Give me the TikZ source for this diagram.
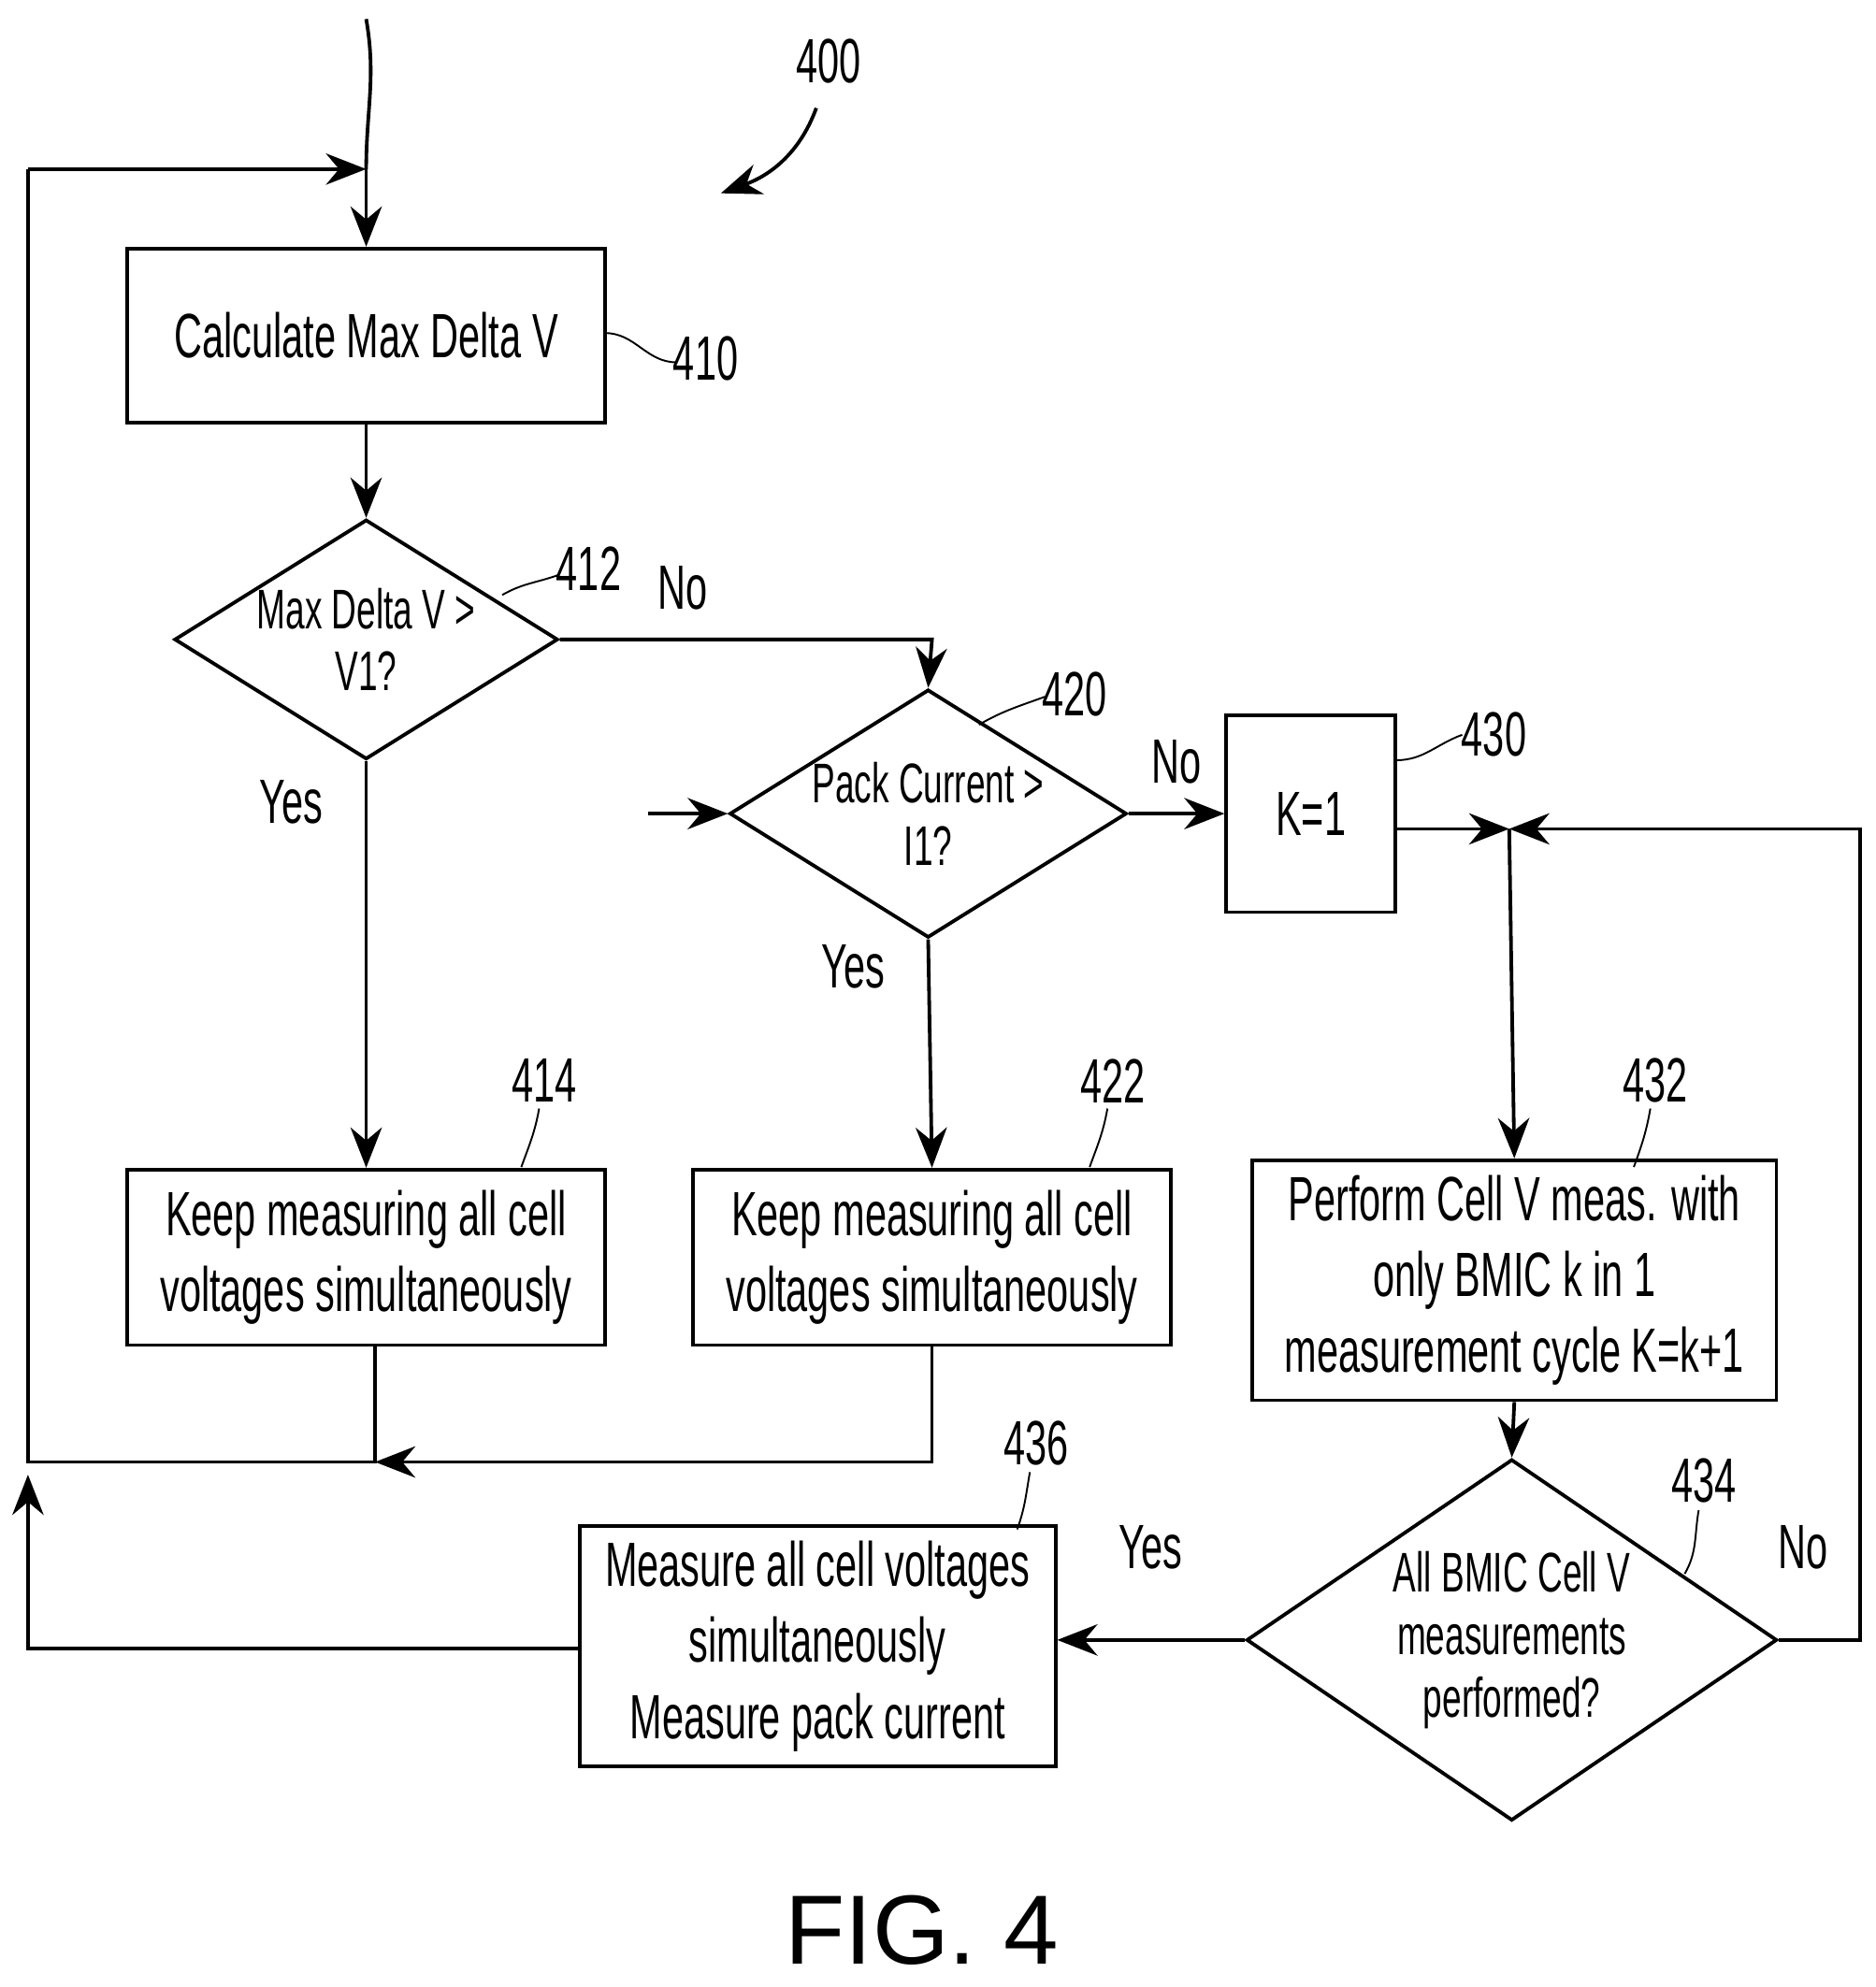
\documentclass[tikz,border=0pt]{standalone}
\usepackage{fontspec}
\setmainfont[FakeStretch=0.62]{Liberation Sans}
\newfontfamily\figfont{Liberation Sans}
\usetikzlibrary{shapes.geometric,arrows.meta}
\tikzset{
  box/.style={draw,thick,align=center,font=\fontsize{14}{17}\selectfont},
  dia/.style={draw,thick,diamond,inner sep=0pt,align=center,font=\fontsize{12.5}{14}\selectfont},
  line/.style={thick},
  flow/.style={thick,-{Stealth[length=9pt,width=7pt]}},
  ref/.style={font=\fontsize{14}{17}\selectfont},
  lbl/.style={font=\fontsize{14}{17}\selectfont},
  lead/.style={thin}
}
\begin{document}
\begin{tikzpicture}[x=0.01cm,y=-0.01cm]
\useasboundingbox (0,0) rectangle (1475,1563);
% steps
\node[box,minimum width=3.76cm,minimum height=1.37cm] (B410) at (288,264) {Calculate Max Delta V};
\node[dia,aspect=1.6,minimum width=3.0cm,minimum height=1.87cm] (D412) at (288,503) {Max Delta V >\\V1?};
\node[dia,aspect=1.6,minimum width=3.0cm,minimum height=1.86cm] (D420) at (730,640) {Pack Current >\\I1?};
\node[box,minimum width=1.33cm,minimum height=1.55cm] (B430) at (1031,640) {K=1};
\node[box,minimum width=3.76cm,minimum height=1.38cm] (B414) at (288,989) {Keep measuring all cell\\voltages simultaneously};
\node[box,minimum width=3.76cm,minimum height=1.38cm] (B422) at (733,989) {Keep measuring all cell\\voltages simultaneously};
\node[box,minimum width=4.12cm,minimum height=1.75cm] (B432) at (1191,1007) {Perform Cell V meas. with\\only BMIC k in 1\\measurement cycle K=k+1};
\node[dia,aspect=1.47,minimum width=4.17cm,minimum height=2.84cm] (D434) at (1189,1290) {All BMIC Cell V\\measurements\\performed?};
\node[box,minimum width=3.74cm,minimum height=1.80cm] (B436) at (643,1295) {Measure all cell voltages\\simultaneously\\Measure pack current};
% junctions
\coordinate (top) at (288,15);
\coordinate (jin) at (288,133);
\coordinate (jl) at (22,133);
\coordinate (jm) at (295,1150);
\coordinate (jb) at (22,1150);
\coordinate (jk) at (1187,652);
\coordinate (jr) at (1463,652);
\coordinate (in420) at (510,640);
% connectors
\draw[line] (top) to[out=-80,in=90] (jin);
\draw[flow] (jin) -- (B410.north);
\draw[flow] (jl) -- (jin);
\draw[flow] (B410.south) -- (D412.north);
\draw[flow] (D412.south) -- node[lbl,pos=0.1,left=6pt] {Yes} (B414.north);
\draw[flow] (D412.east) -- node[lbl,pos=0.33,above=3pt] {No} (733,503) -- (D420.north);
\draw[flow] (in420) -- (D420.west);
\draw[flow] (D420.east) -- node[lbl,above=3pt] {No} (B430.west);
\draw[flow] (D420.south) -- node[lbl,pos=0.12,left=6pt] {Yes} (B422.north);
\draw[flow] (B430.east |- jk) -- (jk);
\draw[flow] (jk) -- (B432.north);
\draw[flow] (B432.south) -- (D434.north);
\draw[flow] (D434.east) -- node[lbl,above=12pt,pos=0.3] {No} (1463,1290) -- (jr) -- (jk);
\draw[flow] (D434.west) -- node[lbl,above=12pt] {Yes} (D434.west -| B436.east);
\draw[line] (B414.south -| jm) -- (jm) -- (jb) -- (jl);
\draw[flow] (B422.south) -- (733,1150) -- (jm);
\draw[flow] (B436.west |- 0,1297) -- (22,1297) -- (22,1160);
% reference numerals
\node[ref] (L400) at (652,48) {400};
\node[ref] (L410) at (555,282) {410};
\node[ref] (L412) at (463,447) {412};
\node[ref] (L420) at (845,546) {420};
\node[ref] (L430) at (1175,578) {430};
\node[ref] (L414) at (428,850) {414};
\node[ref] (L422) at (875,850) {422};
\node[ref] (L432) at (1302,850) {432};
\node[ref] (L434) at (1340,1165) {434};
\node[ref] (L436) at (815,1135) {436};
\draw[flow] (642,85) to[out=-110,in=20] (567,152);
\draw[lead] (476,262) to[out=0,in=180] (532,285);
\draw[lead] (395,468) to[out=30,in=200] (440,452);
\draw[lead] (770,570) to[out=30,in=200] (822,548);
\draw[lead] (1098,598) to[out=0,in=200] (1150,578);
\draw[lead] (410,918) to[out=70,in=-100] (424,872);
\draw[lead] (857,918) to[out=70,in=-100] (871,872);
\draw[lead] (1285,918) to[out=70,in=-100] (1298,872);
\draw[lead] (1325,1238) to[out=60,in=-100] (1336,1188);
\draw[lead] (800,1203) to[out=70,in=-100] (810,1158);
\node[font=\figfont\fontsize{22}{26}\selectfont] (fig) at (725,1518) {FIG. 4};
\end{tikzpicture}
\end{document}
